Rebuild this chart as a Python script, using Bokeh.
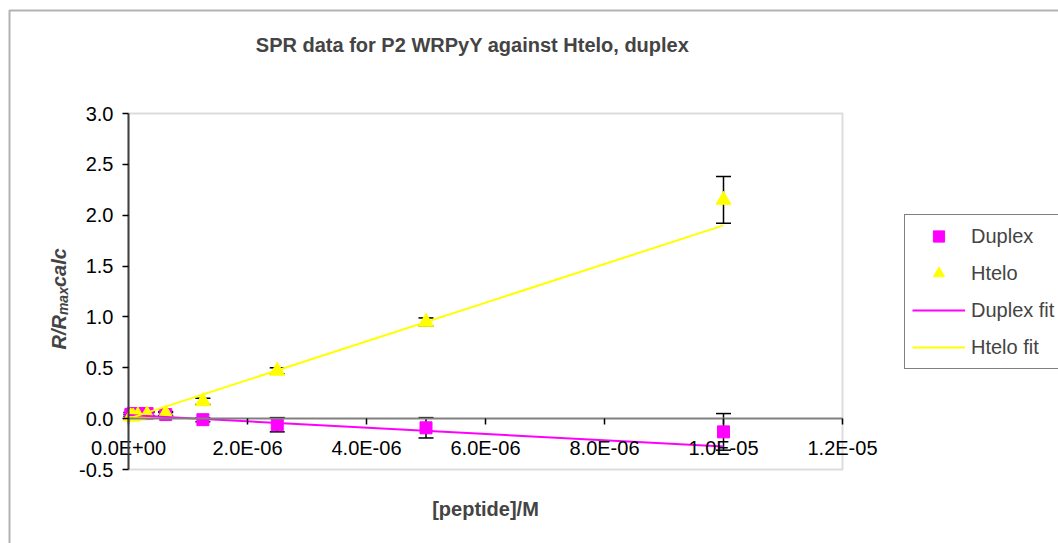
import numpy as np
from bokeh.plotting import figure
from bokeh.models import (ColumnDataSource, Whisker, TeeHead, Label, Legend, LegendItem,
                          FixedTicker, CustomJSTickFormatter, NumeralTickFormatter,
                          BoxAnnotation, PolyAnnotation, Range1d)
from bokeh.embed import file_html
from bokeh.resources import INLINE

# ---------------- data ----------------
conc = [1.0e-5, 5.0e-6, 2.5e-6, 1.25e-6, 6.25e-7, 3.125e-7, 1.5625e-7, 7.8125e-8, 3.90625e-8]
duplex = [-0.13, -0.09, -0.06, -0.01, 0.04, 0.05, 0.05, 0.05, 0.04]
duplex_err = [0.18, 0.10, 0.07, 0.02, 0.02, 0.02, 0.02, 0.02, 0.02]
htelo = [2.15, 0.95, 0.47, 0.17, 0.05, 0.04, 0.03, 0.02, 0.02]
htelo_err = [0.23, 0.04, 0.03, 0.03, 0.02, 0.02, 0.02, 0.02, 0.02]
duplex_fit_x = [0.0, 1.0e-5]
duplex_fit_y = [0.035, -0.275]
htelo_fit_x = [3.90625e-8, 1.0e-5]
htelo_fit_y = [0.008, 1.90]
x_ticks = [0.0, 2.0e-6, 4.0e-6, 6.0e-6, 8.0e-6, 1.0e-5, 1.2e-5]
x_tick_labels = ["0.0E+00", "2.0E-06", "4.0E-06", "6.0E-06", "8.0E-06", "1.0E-05", "1.2E-05"]
y_ticks = [-0.5, 0.0, 0.5, 1.0, 1.5, 2.0, 2.5, 3.0]

title_text = "SPR data for P2 WRPyY against Htelo, duplex"
xlabel_text = "[peptide]/M"
series_names = ["Duplex", "Htelo", "Duplex fit", "Htelo fit"]

FONT = "Liberation Sans"
FS = "20px"
X0, X1 = 0.0, 1.2e-5
Y0, Y1 = -0.5, 3.0
# plot area in page pixels
FL, FR, FT, FB = 128, 842, 113, 469
# canvas in page pixels (Bokeh's page template has no body margin)
CL, CT, CW, CH = 0, 0, 1058, 543


def px2x(px):
    return X0 + (px - FL) / (FR - FL) * (X1 - X0)


def px2y(py):
    return Y0 + (FB - py) / (FB - FT) * (Y1 - Y0)


p = figure(width=CW, height=CH, title=None,
           x_range=Range1d(px2x(CL), px2x(CL + CW)), y_range=Range1d(px2y(CT + CH), px2y(CT)),
           output_backend="svg", toolbar_location=None,
           min_border_left=0, min_border_right=0, min_border_top=0, min_border_bottom=0)
p.xgrid.visible = False
p.ygrid.visible = False
p.outline_line_color = None
p.background_fill_color = "white"
p.border_fill_color = "white"

# plot-area border
p.add_layout(BoxAnnotation(left=X0, right=X1, bottom=Y0, top=Y1, level="underlay",
                           fill_color=None, line_color="#8c8c8c", line_width=2))

# x axis crossing at y = 0
xa = p.xaxis[0]
xa.fixed_location = 0
xa.bounds = (X0, X1)
xa.ticker = FixedTicker(ticks=x_ticks)
xa.formatter = CustomJSTickFormatter(args=dict(tvals=x_ticks, tlabels=x_tick_labels), code="""
    let best = 0, d = Infinity;
    for (let i = 0; i < tvals.length; i++) {
        const dd = Math.abs(tvals[i] - tick);
        if (dd < d) { d = dd; best = i; }
    }
    return tlabels[best];
""")
xa.axis_line_color = "#808080"
xa.axis_line_width = 2
xa.major_tick_line_color = "black"
xa.major_tick_line_width = 1.5
xa.major_tick_in = 0
xa.major_tick_out = 6
xa.minor_tick_line_color = None
xa.major_label_standoff = 12
xa.major_label_text_font = FONT
xa.major_label_text_font_size = FS
xa.major_label_text_color = "black"

ya = p.yaxis[0]
ya.fixed_location = 0
ya.bounds = (Y0, Y1)
ya.ticker = FixedTicker(ticks=y_ticks)
ya.formatter = NumeralTickFormatter(format="0.0")
ya.axis_line_color = "#404040"
ya.axis_line_width = 2
ya.major_tick_line_color = "black"
ya.major_tick_line_width = 1.5
ya.major_tick_in = 0
ya.major_tick_out = 6
ya.minor_tick_line_color = None
ya.major_label_standoff = 9
ya.major_label_text_font = FONT
ya.major_label_text_font_size = FS
ya.major_label_text_color = "black"

# error bars
dsrc = ColumnDataSource(dict(x=conc, y=duplex,
                             upper=[v + e for v, e in zip(duplex, duplex_err)],
                             lower=[v - e for v, e in zip(duplex, duplex_err)]))
hsrc = ColumnDataSource(dict(x=conc, y=htelo,
                             upper=[v + e for v, e in zip(htelo, htelo_err)],
                             lower=[v - e for v, e in zip(htelo, htelo_err)]))
for src in (dsrc, hsrc):
    w = Whisker(base="x", upper="upper", lower="lower", source=src, level="underlay",
                line_color="black", line_width=1.5,
                upper_head=TeeHead(size=15, line_color="black", line_width=1.5),
                lower_head=TeeHead(size=15, line_color="black", line_width=1.5))
    p.add_layout(w)

r_d = p.scatter("x", "y", source=dsrc, marker="square", size=12,
                fill_color="#ff00ff", line_color="#ff00ff")
r_h = p.scatter("x", "y", source=hsrc, marker="triangle", size=15,
                fill_color="#ffff00", line_color="#ffff00")
r_df = p.line(duplex_fit_x, duplex_fit_y, line_color="#ff00ff", line_width=2)
r_hf = p.line(htelo_fit_x, htelo_fit_y, line_color="#ffff00", line_width=2)

LEG_L, LEG_T, LEG_H = 904, 216, 153
legend = Legend(items=[LegendItem(label=n, renderers=[r])
                       for n, r in zip(series_names, [r_d, r_h, r_df, r_hf])],
                location=(LEG_L - CL, (CT + CH) - (LEG_T + LEG_H)),
                label_text_font=FONT, label_text_font_size=FS,
                glyph_width=53, glyph_height=28, label_height=28, spacing=9,
                padding=7, margin=0, label_standoff=6, label_width=260,
                border_line_color="black", border_line_width=1.5,
                background_fill_color="white", background_fill_alpha=1.0)
p.add_layout(legend, "center")

# texts
p.add_layout(Label(x=px2x(472), y=px2y(44), text=title_text, text_font=FONT,
                   text_font_size=FS, text_font_style="bold",
                   text_align="center", text_baseline="middle"))
p.add_layout(Label(x=px2x(485), y=px2y(508), text=xlabel_text, text_font=FONT,
                   text_font_size=FS, text_font_style="bold",
                   text_align="center", text_baseline="middle"))
# y label: R/R_max calc (rotated)
p.add_layout(Label(x=px2x(58), y=px2y(349), text="R/R", angle=np.pi / 2, text_font=FONT,
                   text_font_size="20px", text_font_style="bold italic",
                   text_align="left", text_baseline="alphabetic"))
p.add_layout(Label(x=px2x(62), y=px2y(349 - 34.4), text="max", angle=np.pi / 2, text_font=FONT,
                   text_font_size="14px", text_font_style="bold italic",
                   text_align="left", text_baseline="alphabetic"))
p.add_layout(Label(x=px2x(58), y=px2y(349 - 34.4 - 28), text="calc", angle=np.pi / 2,
                   text_font=FONT, text_font_size="20px", text_font_style="bold italic",
                   text_align="left", text_baseline="alphabetic"))

# outer chart border: only its top and left edges fall inside the picture
p.add_layout(PolyAnnotation(xs=[px2x(1400), px2x(9), px2x(9), px2x(1400)],
                            ys=[px2y(10), px2y(10), px2y(900), px2y(900)],
                            fill_color=None, line_color="black", line_width=2))

open("out.html", "w").write(file_html(p, INLINE))
